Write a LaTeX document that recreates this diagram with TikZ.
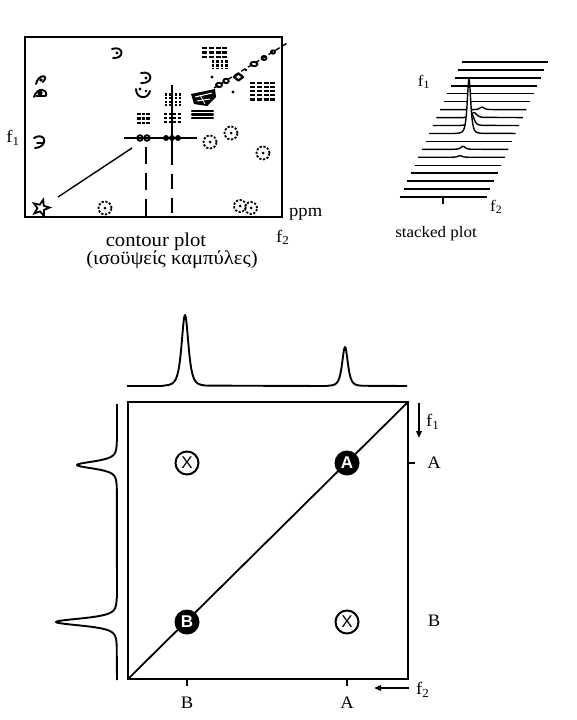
\documentclass[tikz,border=0pt]{standalone}
\usepackage{fontspec}
\setmainfont[FakeStretch=1.06]{Liberation Serif}
\newfontfamily\lsans{Liberation Sans}
\usetikzlibrary{arrows.meta,shapes.geometric}
\begin{document}
\begin{tikzpicture}[x=1pt,y=-1pt,
  declare function={lp(\d,\w)=1/((1+(\d/\w)^2)^2);},
  lab/.style={inner sep=0pt,font=\fontsize{17.5}{20}\selectfont},
  biglab/.style={inner sep=0pt,font=\fontsize{19.5}{22}\selectfont},
  smlab/.style={inner sep=0pt,font=\fontsize{16}{18}\selectfont},
  spec/.style={line width=1.9pt,line join=round},
  stk/.style={line width=1.4pt,line join=round},
  frame/.style={line width=2.5pt},
  cb/.style={line width=1.9pt,line cap=round,line join=round},
  dc/.style={draw,circle,dash pattern=on 2.2pt off 1.6pt,line width=1.8pt,minimum size=13pt,inner sep=0pt},
  full/.style={circle,fill=black,minimum size=25pt,inner sep=0pt,text=white,font=\lsans\bfseries\fontsize{17}{17}\selectfont},
  cross/.style={circle,draw,line width=2pt,fill=white,minimum size=23pt,inner sep=0pt,font=\lsans\fontsize{17}{17}\selectfont},
  arr/.style={line width=2pt,-{Triangle[length=7pt,width=5.5pt]}}]
\useasboundingbox (0,0) rectangle (576,720);

%================ contour plot =================
\coordinate (cTL) at (25,37);
\coordinate (cBR) at (282,217);
\draw[line width=2.2pt] (cTL) rectangle (cBR);
% guide lines
\coordinate (h1) at (124,138); \coordinate (h2) at (197,138);
\draw[line width=1.4pt] (h1) -- (h2);
\coordinate (v1) at (172,85); \coordinate (v2) at (172,150); \coordinate (v3) at (172,217);
\draw[line width=1.4pt] (v1) -- (v2);
\draw[line width=1.4pt,dash pattern=on 15pt off 9pt] (v2) -- (v3);
\coordinate (w1) at (146,147); \coordinate (w2) at (146,217);
\draw[line width=1.4pt,dash pattern=on 17pt off 9pt] (w1) -- (w2);
\coordinate (d1) at (58,197); \coordinate (d2) at (132,148);
\draw[line width=1.4pt] (d1) -- (d2);
% diagonal dashed line of peaks
\coordinate (g1) at (214,88); \coordinate (g2) at (289,42);
\draw[line width=1.4pt,dash pattern=on 5pt off 3pt] (g1) -- (g2);
\draw[cb] (219,85) ellipse (3pt and 2.2pt);
\draw[cb] (226,81) ellipse (2.8pt and 2.2pt);
\draw[cb,line width=2.2pt] (234,77) -- (238.5,73.5) -- (243,77) -- (238.5,80.5) -- cycle;
\draw[cb] (254,64) ellipse (3.5pt and 2.2pt);
\draw[cb] (264,58) ellipse (2.5pt and 2pt);
\draw[cb] (273,52) ellipse (2pt and 1.6pt);
\fill (212,77) circle (1.6pt);
\fill (233,92) circle (1.6pt);
\fill (246,70) circle (1.4pt);
% upper right cluster
\foreach \yy in {48,52.5,57} \draw[cb,line width=2.4pt,line cap=butt,dash pattern=on 5pt off 1.8pt] (202,\yy) -- (229,\yy);
\foreach \xx in {213,217.5,222,226.5} \draw[cb,line width=2.4pt,line cap=butt,dash pattern=on 3pt off 1pt] (\xx,60) -- (\xx,69);
\foreach \yy in {83,87,91,95,99.5} \draw[cb,line width=2.4pt,line cap=butt,dash pattern=on 5pt off 1.8pt] (250,\yy) -- (277,\yy);
% clusters near vertical line
\foreach \xx in {166,170,176,180} \draw[cb,line width=2.2pt,line cap=butt,dash pattern=on 2.6pt off 1.2pt] (\xx,93) -- (\xx,106);
\foreach \yy in {114,118,122} \draw[cb,line width=2.2pt,line cap=butt,dash pattern=on 3pt off 1.6pt] (164,\yy) -- (181,\yy);
\foreach \yy in {114,118.5,123} \draw[cb,line width=2.2pt,line cap=butt,dash pattern=on 3.5pt off 1.2pt] (137,\yy) -- (151,\yy);
\foreach \yy in {111,114.5,118} \draw[cb,line width=2.2pt] (192,\yy) -- (213,\yy);
% hatched blob
\fill (191,94) -- (215,89) -- (216,97) -- (207,106) -- (194,104) -- cycle;
\draw[white,line width=1pt] (195,97) -- (212,93);
\draw[white,line width=1pt] (197,101) -- (210,99);
\draw[white,line width=0.8pt] (200,95) -- (205,104);
% cross peaks on horizontal line
\draw[cb] (140,138) circle (2.8pt);
\draw[cb] (147,138) circle (2.8pt);
\foreach \xx in {166,172,178} \fill (\xx,138) circle (3pt);
% small loops
\draw[cb] (112,49) .. controls (124,45) and (125,59) .. (113,58);
\fill (117,53) circle (1.6pt);
\draw[cb] (141,73) .. controls (153,70) and (154,84) .. (141,83);
\fill (146,78) circle (1.6pt);
\draw[cb] (36,84) .. controls (38,74) and (50,74) .. (43,82);
\fill (41,80) circle (1.8pt);
\draw[cb] (34,97) .. controls (37,87) and (48,88) .. (46,96);
\fill (40,93) circle (2.6pt);
\draw[cb] (36,96) -- (45,96);
\draw[cb] (136,89) .. controls (136,99) and (148,100) .. (150,91);
\fill (140,89) circle (1.6pt);
\fill (146,91) circle (1.4pt);
\draw[cb] (34,138) .. controls (46,131) and (49,147) .. (35,148);
\draw[cb] (37,143) -- (43,143);
% dotted circles
\node[dc] (p1) at (210,142) {};
\node[dc] (p2) at (231,133) {};
\node[dc] (p3) at (263,153) {};
\node[dc] (p4) at (105,208) {};
\node[dc,minimum size=12pt] (p5) at (240,206) {};
\node[dc,minimum size=12pt] (p6) at (251,208) {};
\foreach \c in {p1,p2,p3,p4,p5,p6} \fill (\c) circle (1.5pt);
\node[star,star points=5,star point ratio=2.4,draw,line width=1.8pt,minimum size=17pt,inner sep=0pt,rotate=-15] (st) at (41,208) {};
% labels
\node[lab] (cf1) at (13,138) {f\textsubscript{1}};
\node[lab,anchor=base west] (cppm) at (289,216) {ppm};
\node[lab,anchor=base west] (cf2) at (276,242) {f\textsubscript{2}};
\node[biglab,anchor=base] (ct1) at (156,246) {contour plot};
\node[biglab,anchor=base] (ct2) at (172,264) {(ισοϋψείς καμπύλες)};

%================ stacked plot =================
\foreach \i in {0,...,5} \draw[stk] ({462-3.65*\i},{62+7.94*\i}) -- ({548-3.6*\i},{62+7.94*\i});
\draw[stk] ({462-3.65*6},{62+7.94*6}) -- (474,{62+7.94*6}) -- plot[domain=474:490,samples=25,smooth] (\x,{62+7.94*6-2.5*lp(\x-482,4)}) -- ({548-3.6*6},{62+7.94*6});
\draw[stk] ({462-3.65*7},{62+7.94*7}) -- (464,{62+7.94*7}) -- plot[domain=464:484,samples=31,smooth] (\x,{62+7.94*7-5*lp(\x-474,5)}) -- ({548-3.6*7},{62+7.94*7});
\filldraw[stk,fill=white] ({462-3.65*8},{62+7.94*8}) -- (460,{62+7.94*8}) -- plot[domain=460:484,samples=41,smooth] (\x,{62+7.94*8-11*lp(\x-472,4)}) -- ({548-3.6*8},{62+7.94*8});
\filldraw[stk,fill=white] ({462-3.65*9},{62+7.94*9}) -- (455,{62+7.94*9}) -- plot[domain=455:483,samples=81,smooth] (\x,{62+7.94*9-54*lp(\x-469,3.2)}) -- ({548-3.6*9},{62+7.94*9});
\draw[stk] ({462-3.65*10},{62+7.94*10}) -- ({548-3.6*10},{62+7.94*10});
\draw[stk] ({462-3.65*11},{62+7.94*11}) -- (453,{62+7.94*11}) -- plot[domain=453:473,samples=25,smooth] (\x,{62+7.94*11-3*lp(\x-463,4)}) -- ({548-3.6*11},{62+7.94*11});
\draw[stk] ({462-3.65*12},{62+7.94*12}) -- (451,{62+7.94*12}) -- plot[domain=451:469,samples=25,smooth] (\x,{62+7.94*12-1.6*lp(\x-460,4)}) -- ({548-3.6*12},{62+7.94*12});
\foreach \i in {13,...,17} \draw[stk] ({462-3.65*\i},{62+7.94*\i}) -- ({548-3.6*\i},{62+7.94*\i});
\coordinate (tk1) at (443,197); \coordinate (tk2) at (443,204);
\draw[stk] (tk1) -- (tk2);
\node[smlab] (sf1) at (424,82) {f\textsubscript{1}};
\node[smlab,anchor=base west] (sf2) at (490,211) {f\textsubscript{2}};
\node[smlab,anchor=base] (st1) at (436,237) {stacked plot};

%================ 2D scheme =================
\coordinate (BL) at (128,679);
\coordinate (TR) at (408,402);
\draw[frame] (BL) rectangle (TR);
\draw[line width=1.8pt] (BL) -- (TR);
\draw[spec] (127,386) -- (163,386)
  -- plot[domain=163:207,samples=81,smooth] (\x,{386-71*lp(\x-185,6.2)})
  -- (327,386)
  -- plot[domain=327:363,samples=61,smooth] (\x,{386-39*lp(\x-345,5.2)})
  -- (407,386);
\draw[spec] (117,404) -- (117,441)
  -- plot[domain=441:489,samples=81,smooth] ({117-40*lp(\x-465,6.5)},\x)
  -- (117,598)
  -- plot[domain=598:646,samples=81,smooth] ({117-61*lp(\x-622,6.5)},\x)
  -- (117,680);
\node[full] (A) at (347,463) {A};
\node[full] (B) at (187,622) {B};
\node[cross] (X1) at (187,463) {X};
\node[cross] (X2) at (347,622) {X};
\coordinate (tA) at (415,463);
\draw[line width=1.5pt] (408,463) -- (tA);
\coordinate (bB) at (187,686);
\coordinate (bA) at (347,686);
\draw[line width=1.5pt] (187,679) -- (bB);
\draw[line width=1.5pt] (347,679) -- (bA);
\node[lab] (lA) at (434,463) {A};
\node[lab] (lB) at (434,621) {B};
\node[lab] (lbB) at (187,703) {B};
\node[lab] (lbA) at (347,703) {A};
\coordinate (f1a) at (419,403); \coordinate (f1b) at (419,438);
\draw[arr] (f1a) -- (f1b);
\node[lab,anchor=west] (lf1) at (426,422) {f\textsubscript{1}};
\coordinate (f2a) at (409,688); \coordinate (f2b) at (374,688);
\draw[arr] (f2a) -- (f2b);
\node[lab,anchor=west] (lf2) at (416,690) {f\textsubscript{2}};
\end{tikzpicture}
\end{document}
